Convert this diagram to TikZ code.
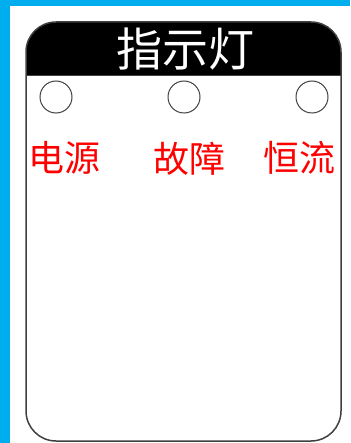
\documentclass[tikz,border=0pt]{standalone}
\usepackage{fontspec}
\newfontfamily\cjk{Noto Sans CJK SC}
\usetikzlibrary{positioning}
\definecolor{skyblue}{HTML}{00AEEF}
\definecolor{framegray}{HTML}{404040}

\tikzset{
    lamp/.style={draw=framegray, circle, line width=1pt, minimum size=32pt, inner sep=0pt},
    lamplabel/.style={draw=none, text=red, inner sep=0pt, font=\cjk\fontsize{36}{36}\selectfont},
    paneltitle/.style={draw=none, text=white, inner sep=0pt, font=\cjk\fontsize{46}{46}\selectfont}
}

\begin{document}
\begin{tikzpicture}[x=1pt, y=-1pt]

    \useasboundingbox (0, 0) rectangle (350, 443);
\fill[white] (0, 0) rectangle (350, 443);
\fill[skyblue] (0, 0) rectangle (350, 6);
\fill[skyblue] (0, 0) rectangle (10, 443);


    \begin{scope}
\clip[rounded corners=30pt] (26, 22) rectangle (341, 441);
\fill[black] (26, 22) rectangle (341, 76);
\end{scope}
\draw[color=framegray, line width=1.5pt, rounded corners=30pt] (26, 22) rectangle (341, 441);
\draw[color=framegray, line width=1pt] (26, 76) -- (341, 76);
\node[paneltitle] (T0) at (185, 49) {指示灯};


    \node[lamp] (L0) at (56, 97) {};
\node[lamplabel, below=28pt of L0, xshift=8pt] (N0) {电源};


    \node[lamp] (L1) at (184, 97) {};
\node[lamplabel, below=28pt of L1, xshift=5pt] (N1) {故障};


    \node[lamp] (L2) at (312, 97) {};
\node[lamplabel, below=28pt of L2, xshift=-13pt] (N2) {恒流};


\end{tikzpicture}
\end{document}
